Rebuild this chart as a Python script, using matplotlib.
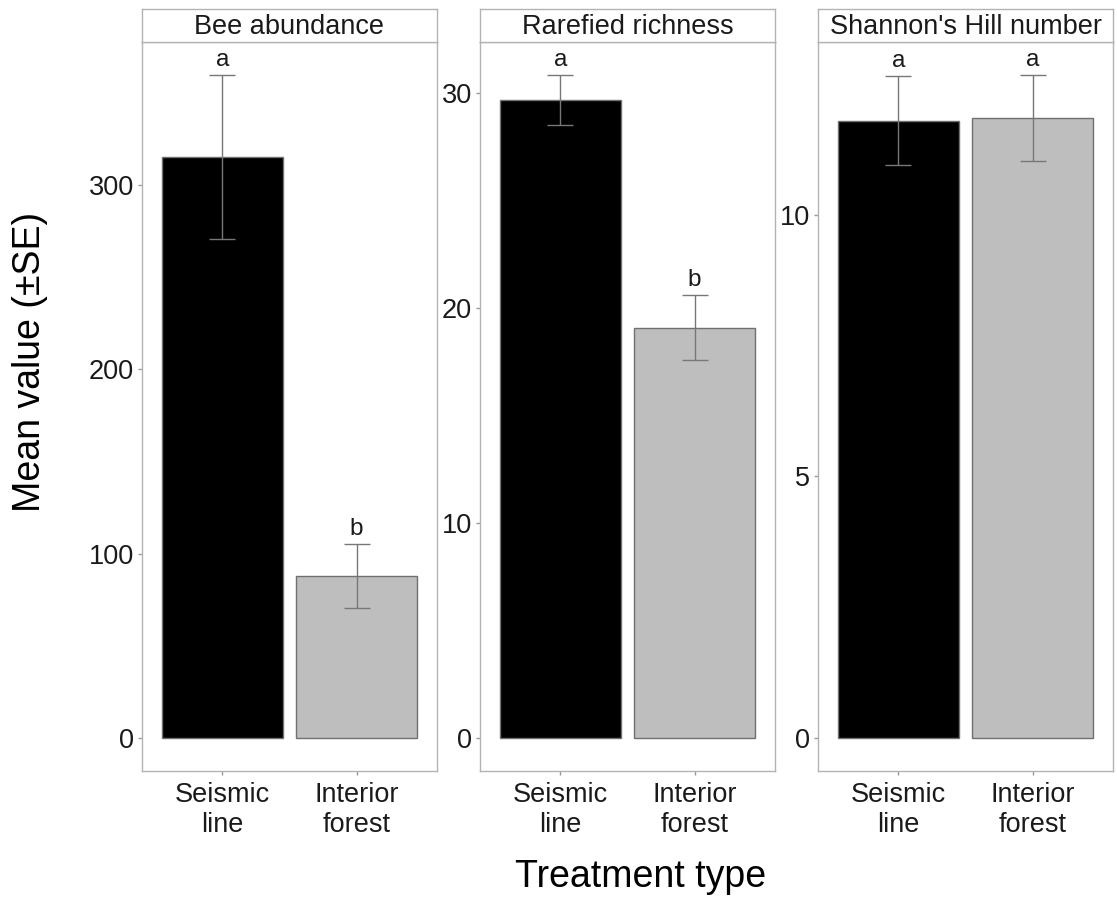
import matplotlib
matplotlib.use("Agg")
import matplotlib.pyplot as plt
import numpy as np

plt.rcParams['font.family'] = ['Liberation Sans', 'DejaVu Sans']

categories = ["Seismic\nline", "Interior\nforest"]
panel_titles = ["Bee abundance", "Rarefied richness", "Shannon's Hill number"]

abundance_mean = [315, 88]
abundance_se = [44.5, 17.3]
richness_mean = [29.7, 19.1]
richness_se = [1.15, 1.5]
shannon_mean = [11.8, 11.85]
shannon_se = [0.85, 0.82]

abundance_letters = ["a", "b"]
richness_letters = ["a", "b"]
shannon_letters = ["a", "a"]

abundance_ticks = [0, 100, 200, 300]
richness_ticks = [0, 10, 20, 30]
shannon_ticks = [0, 5, 10]

means = [abundance_mean, richness_mean, shannon_mean]
ses = [abundance_se, richness_se, shannon_se]
letters = [abundance_letters, richness_letters, shannon_letters]
yticks = [abundance_ticks, richness_ticks, shannon_ticks]

bar_colors = ["#000000", "#BEBEBE"]
border = "#B3B3B3"

W, H = 1117, 899
fig = plt.figure(figsize=(W / 100, H / 100), dpi=100)

lefts = [142, 480, 818]
pw = 295
top_px, bot_px, strip_top_px = 42, 771, 9

for i in range(3):
    l = lefts[i]
    ax = fig.add_axes([l / W, 1 - bot_px / H, pw / W, (bot_px - top_px) / H])
    x = np.arange(1, 3)
    ax.bar(x, means[i], width=0.9, color=bar_colors, edgecolor="#707070", linewidth=1.0, zorder=2)
    ax.errorbar(x, means[i], yerr=ses[i], fmt="none", ecolor="#777777", elinewidth=1.0,
                capsize=9.6, capthick=1.0, zorder=3)
    tops = np.array(means[i]) + np.array(ses[i])
    for xi, t, lab in zip(x, tops, letters[i]):
        ax.annotate(lab, (xi, t), xytext=(0, 6.5), textcoords="offset points",
                    ha="center", va="baseline", fontsize=17.5, color="#1a1a1a")
    D = tops.max()
    ax.set_ylim(-0.05 * D, 1.05 * D)
    ax.set_xlim(0.4, 2.6)
    ax.set_xticks(x)
    ax.set_xticklabels(categories, fontsize=19.5, linespacing=1.2, color="#1a1a1a")
    ax.set_yticks(yticks[i])
    ax.set_yticklabels([str(v) for v in yticks[i]], fontsize=19.5, color="#1a1a1a")
    ax.tick_params(axis="both", length=3, width=1, color="#999999", pad=3)
    ax.tick_params(axis="x", pad=5)
    for s in ax.spines.values():
        s.set_color(border)
        s.set_linewidth(1.0)
    # strip
    sax = fig.add_axes([l / W, 1 - top_px / H, pw / W, (top_px - strip_top_px) / H])
    sax.set_xticks([])
    sax.set_yticks([])
    sax.set_facecolor("white")
    for s in sax.spines.values():
        s.set_color(border)
        s.set_linewidth(1.0)
    sax.text(0.5, 0.45, panel_titles[i], ha="center", va="center", fontsize=19.5,
             color="#1a1a1a", transform=sax.transAxes)

fig.text(641 / W, 1 - 887 / H, "Treatment type", ha="center", va="baseline", fontsize=27)
fig.text(30 / W, 1 - 362 / H, "Mean value (±SE)", ha="center", va="center",
         rotation=90, fontsize=27)

fig.savefig("out.png", dpi=100)
